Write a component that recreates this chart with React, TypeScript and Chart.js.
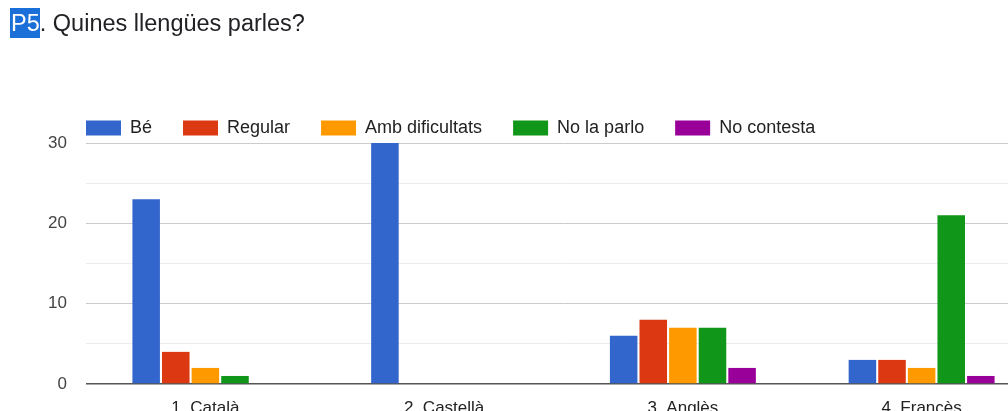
import { useEffect, useRef } from "react";
import { Chart, registerables } from "chart.js";

Chart.register(...registerables);

const categories = ["1. Català", "2. Castellà", "3. Anglès", "4. Francès"];
const seriesNames = ["Bé", "Regular", "Amb dificultats", "No la parlo", "No contesta"];
const be = [23, 30, 6, 3];
const regular = [4, 0, 8, 3];
const ambDificultats = [2, 0, 7, 2];
const noLaParlo = [1, 0, 7, 21];
const noContesta = [0, 0, 2, 1];
const seriesColors = ["#3366cc", "#dc3912", "#ff9900", "#109618", "#990099"];
const yMax = 30;
const yStep = 5;
const yLabelEvery = 10;

const FONT = "'Liberation Sans', Arial, sans-serif";

const legendPlugin = {
  id: "customLegend",
  afterDraw(chart: any) {
    const ctx = chart.ctx;
    ctx.save();
    ctx.font = `18px ${FONT}`;
    ctx.textBaseline = "middle";
    ctx.textAlign = "left";
    let x = chart.chartArea.left;
    const y = 128;
    chart.data.datasets.forEach((ds: any) => {
      ctx.fillStyle = ds.backgroundColor;
      ctx.fillRect(x, y - 7.5, 35, 15);
      ctx.fillStyle = "#222222";
      ctx.fillText(ds.label, x + 44, y);
      x += 44 + ctx.measureText(ds.label).width + 31;
    });
    ctx.restore();
  },
};

export default function App() {
  const ref = useRef<HTMLCanvasElement>(null);

  useEffect(() => {
    if (!ref.current) return;
    const seriesValues = [be, regular, ambDificultats, noLaParlo, noContesta];
    const chart = new Chart(ref.current, {
      type: "bar",
      data: {
        labels: categories,
        datasets: seriesNames.map((name, i) => ({
          label: name,
          data: seriesValues[i],
          backgroundColor: seriesColors[i],
          borderWidth: 0,
          categoryPercentage: 0.62,
          barPercentage: 0.93,
        })),
      },
      options: {
        animation: false,
        responsive: false,
        maintainAspectRatio: false,
        devicePixelRatio: 1,
        layout: { padding: { top: 143, left: 0, right: 0, bottom: 0 } },
        plugins: {
          legend: { display: false },
          tooltip: { enabled: false },
          title: { display: false },
        },
        scales: {
          x: {
            grid: { display: false, drawTicks: false },
            border: { display: false },
            ticks: {
              color: "#222222",
              font: { family: FONT, size: 17 },
              padding: 14,
              maxRotation: 0,
            },
            afterFit: (s: any) => {
              s.height = 30;
            },
          },
          y: {
            min: 0,
            max: yMax,
            grid: {
              drawTicks: false,
              color: (c: any) => {
                const v = c.tick?.value;
                if (v === 0) return "#555555";
                return v % yLabelEvery === 0 ? "#cccccc" : "#ebebeb";
              },
              lineWidth: (c: any) => (c.tick?.value === 0 ? 1.5 : 1),
            },
            border: { display: false },
            ticks: {
              stepSize: yStep,
              color: "#444444",
              font: { family: FONT, size: 17 },
              padding: 19,
              callback: (v: any) => (Number(v) % yLabelEvery === 0 ? String(v) : ""),
            },
            afterFit: (s: any) => {
              s.width = 86;
            },
          },
        },
      },
      plugins: [legendPlugin],
    });
    return () => chart.destroy();
  }, []);

  return (
    <div
      style={{
        position: "absolute",
        left: 0,
        top: 0,
        width: 1008,
        height: 411,
        overflow: "hidden",
        background: "#ffffff",
      }}
    >
      <canvas
        ref={ref}
        width={1041}
        height={414}
        style={{ position: "absolute", left: 0, top: 0, width: 1041, height: 414 }}
      />
      <div
        style={{
          position: "absolute",
          left: 10,
          top: 8,
          fontFamily: FONT,
          fontSize: 23.5,
          lineHeight: "30px",
          color: "#202124",
          whiteSpace: "nowrap",
        }}
      >
        <span style={{ background: "#1a6fd8", color: "#ffffff", padding: "2px 0 2px 1px" }}>P5</span>
        . Quines llengües parles?
      </div>
    </div>
  );
}
